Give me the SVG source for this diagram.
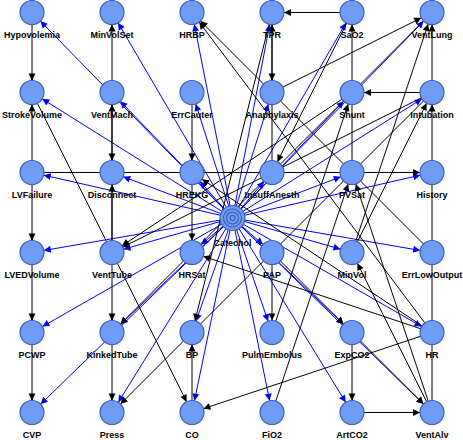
<svg xmlns="http://www.w3.org/2000/svg" width="463" height="440" viewBox="0 0 463 440">
<defs>
<marker id="ab" markerUnits="userSpaceOnUse" markerWidth="8" markerHeight="8" refX="19" refY="3.5" orient="auto" overflow="visible"><path d="M0,0 L7,3.5 L0,7 z" fill="#000"/></marker>
<marker id="ag" markerUnits="userSpaceOnUse" markerWidth="8" markerHeight="8" refX="19" refY="3.5" orient="auto" overflow="visible"><path d="M0,0 L7,3.5 L0,7 z" fill="#0000ff"/></marker>
</defs>
<style>
.k{stroke:#000;stroke-width:1;fill:none;marker-end:url(#ab)}
.b{stroke:#0000ff;stroke-width:1;fill:none;marker-end:url(#ag)}
.n circle{fill:#6f9cf8;stroke:#3f5fb4;stroke-width:1.2}
.n text{font-family:"Liberation Sans",Arial,sans-serif;font-weight:bold;font-size:9px;text-anchor:middle;fill:#000}
</style>
<rect width="463" height="440" fill="#fff"/>
<g id="connectors">
<g id="blue">
<line class="b" x1="232.5" y1="218" x2="32" y2="12.5"/>
<line class="b" x1="232.5" y1="218" x2="112" y2="12.5"/>
<line class="b" x1="232.5" y1="218" x2="192" y2="12.5"/>
<line class="b" x1="232.5" y1="218" x2="272" y2="12.5"/>
<line class="b" x1="232.5" y1="218" x2="352" y2="12.5"/>
<line class="b" x1="232.5" y1="218" x2="432" y2="12.5"/>
<line class="b" x1="232.5" y1="218" x2="32" y2="92.5"/>
<line class="b" x1="232.5" y1="218" x2="112" y2="92.5"/>
<line class="b" x1="232.5" y1="218" x2="192" y2="92.5"/>
<line class="b" x1="232.5" y1="218" x2="272" y2="92.5"/>
<line class="b" x1="232.5" y1="218" x2="352" y2="92.5"/>
<line class="b" x1="232.5" y1="218" x2="432" y2="92.5"/>
<line class="b" x1="232.5" y1="218" x2="32" y2="172.5"/>
<line class="b" x1="232.5" y1="218" x2="112" y2="172.5"/>
<line class="b" x1="232.5" y1="218" x2="192" y2="172.5"/>
<line class="b" x1="232.5" y1="218" x2="272" y2="172.5"/>
<line class="b" x1="232.5" y1="218" x2="352" y2="172.5"/>
<line class="b" x1="232.5" y1="218" x2="432" y2="172.5"/>
<line class="b" x1="232.5" y1="218" x2="32" y2="252.5"/>
<line class="b" x1="232.5" y1="218" x2="112" y2="252.5"/>
<line class="b" x1="232.5" y1="218" x2="192" y2="252.5"/>
<line class="b" x1="232.5" y1="218" x2="272" y2="252.5"/>
<line class="b" x1="232.5" y1="218" x2="352" y2="252.5"/>
<line class="b" x1="232.5" y1="218" x2="432" y2="252.5"/>
<line class="b" x1="232.5" y1="218" x2="32" y2="332.5"/>
<line class="b" x1="232.5" y1="218" x2="112" y2="332.5"/>
<line class="b" x1="232.5" y1="218" x2="192" y2="332.5"/>
<line class="b" x1="232.5" y1="218" x2="272" y2="332.5"/>
<line class="b" x1="232.5" y1="218" x2="352" y2="332.5"/>
<line class="b" x1="232.5" y1="218" x2="432" y2="332.5"/>
<line class="b" x1="232.5" y1="218" x2="32" y2="412.5"/>
<line class="b" x1="232.5" y1="218" x2="112" y2="412.5"/>
<line class="b" x1="232.5" y1="218" x2="192" y2="412.5"/>
<line class="b" x1="232.5" y1="218" x2="272" y2="412.5"/>
<line class="b" x1="232.5" y1="218" x2="352" y2="412.5"/>
<line class="b" x1="232.5" y1="218" x2="432" y2="412.5"/>
</g>
<g id="black">
<line class="k" x1="32" y1="12.5" x2="32" y2="92.5"/>
<line class="k" x1="32" y1="172.5" x2="32" y2="92.5"/>
<line class="k" x1="32" y1="172.5" x2="32" y2="252.5"/>
<line class="k" x1="32" y1="172.5" x2="432" y2="172.5"/>
<line class="k" x1="32" y1="252.5" x2="32" y2="332.5"/>
<line class="k" x1="32" y1="332.5" x2="32" y2="412.5"/>
<line class="k" x1="32" y1="92.5" x2="192" y2="412.5"/>
<line class="k" x1="432" y1="252.5" x2="192" y2="12.5"/>
<line class="k" x1="432" y1="332.5" x2="192" y2="12.5"/>
<line class="k" x1="192" y1="92.5" x2="192" y2="172.5"/>
<line class="k" x1="192" y1="172.5" x2="192" y2="252.5"/>
<line class="k" x1="272" y1="12.5" x2="272" y2="92.5"/>
<line class="k" x1="272" y1="172.5" x2="272" y2="12.5"/>
<line class="k" x1="352" y1="12.5" x2="272" y2="12.5"/>
<line class="k" x1="272" y1="12.5" x2="192" y2="332.5"/>
<line class="k" x1="352" y1="12.5" x2="272" y2="172.5"/>
<line class="k" x1="352" y1="172.5" x2="352" y2="12.5"/>
<line class="k" x1="432" y1="92.5" x2="352" y2="92.5"/>
<line class="k" x1="432" y1="92.5" x2="432" y2="12.5"/>
<line class="k" x1="272" y1="92.5" x2="432" y2="12.5"/>
<line class="k" x1="272" y1="332.5" x2="352" y2="92.5"/>
<line class="k" x1="272" y1="252.5" x2="272" y2="332.5"/>
<line class="k" x1="272" y1="412.5" x2="352" y2="172.5"/>
<line class="k" x1="432" y1="412.5" x2="352" y2="172.5"/>
<line class="k" x1="432" y1="12.5" x2="112" y2="332.5"/>
<line class="k" x1="112" y1="252.5" x2="112" y2="332.5"/>
<line class="k" x1="112" y1="332.5" x2="112" y2="412.5"/>
<line class="k" x1="432" y1="92.5" x2="112" y2="412.5"/>
<line class="k" x1="112" y1="252.5" x2="112" y2="172.5"/>
<line class="k" x1="112" y1="252.5" x2="112" y2="92.5"/>
<line class="k" x1="112" y1="92.5" x2="112" y2="172.5"/>
<line class="k" x1="112" y1="92.5" x2="112" y2="12.5"/>
<line class="k" x1="352" y1="92.5" x2="112" y2="252.5"/>
<line class="k" x1="432" y1="92.5" x2="112" y2="252.5"/>
<line class="k" x1="432" y1="412.5" x2="432" y2="92.5"/>
<line class="k" x1="352" y1="252.5" x2="432" y2="92.5"/>
<line class="k" x1="352" y1="252.5" x2="432" y2="12.5"/>
<line class="k" x1="272" y1="252.5" x2="352" y2="332.5"/>
<line class="k" x1="352" y1="332.5" x2="432" y2="412.5"/>
<line class="k" x1="352" y1="332.5" x2="352" y2="412.5"/>
<line class="k" x1="352" y1="412.5" x2="432" y2="412.5"/>
<line class="k" x1="432" y1="332.5" x2="192" y2="412.5"/>
<line class="k" x1="192" y1="412.5" x2="192" y2="332.5"/>
<line class="k" x1="432" y1="332.5" x2="192" y2="252.5"/>
<line class="k" x1="432" y1="332.5" x2="192" y2="172.5"/>
<line class="k" x1="432" y1="412.5" x2="352" y2="252.5"/>
</g>
</g>
<g id="Hypovolemia" class="n"><circle cx="32" cy="12.5" r="12"/><text x="32" y="38">Hypovolemia</text></g>
<g id="MinVolSet" class="n"><circle cx="112" cy="12.5" r="12"/><text x="112" y="38">MinVolSet</text></g>
<g id="HRBP" class="n"><circle cx="192" cy="12.5" r="12"/><text x="192" y="38">HRBP</text></g>
<g id="TPR" class="n"><circle cx="272" cy="12.5" r="12"/><text x="272" y="38">TPR</text></g>
<g id="SaO2" class="n"><circle cx="352" cy="12.5" r="12"/><text x="352" y="38">SaO2</text></g>
<g id="VentLung" class="n"><circle cx="432" cy="12.5" r="12"/><text x="432" y="38">VentLung</text></g>
<g id="StrokeVolume" class="n"><circle cx="32" cy="92.5" r="12"/><text x="32" y="118">StrokeVolume</text></g>
<g id="VentMach" class="n"><circle cx="112" cy="92.5" r="12"/><text x="112" y="118">VentMach</text></g>
<g id="ErrCauter" class="n"><circle cx="192" cy="92.5" r="12"/><text x="192" y="118">ErrCauter</text></g>
<g id="Anaphylaxis" class="n"><circle cx="272" cy="92.5" r="12"/><text x="272" y="118">Anaphylaxis</text></g>
<g id="Shunt" class="n"><circle cx="352" cy="92.5" r="12"/><text x="352" y="118">Shunt</text></g>
<g id="Intubation" class="n"><circle cx="432" cy="92.5" r="12"/><text x="432" y="118">Intubation</text></g>
<g id="LVFailure" class="n"><circle cx="32" cy="172.5" r="12"/><text x="32" y="198">LVFailure</text></g>
<g id="Disconnect" class="n"><circle cx="112" cy="172.5" r="12"/><text x="112" y="198">Disconnect</text></g>
<g id="HREKG" class="n"><circle cx="192" cy="172.5" r="12"/><text x="192" y="198">HREKG</text></g>
<g id="InsuffAnesth" class="n"><circle cx="272" cy="172.5" r="12"/><text x="272" y="198">InsuffAnesth</text></g>
<g id="PVSat" class="n"><circle cx="352" cy="172.5" r="12"/><text x="352" y="198">PVSat</text></g>
<g id="History" class="n"><circle cx="432" cy="172.5" r="12"/><text x="432" y="198">History</text></g>
<g id="LVEDVolume" class="n"><circle cx="32" cy="252.5" r="12"/><text x="32" y="278">LVEDVolume</text></g>
<g id="VentTube" class="n"><circle cx="112" cy="252.5" r="12"/><text x="112" y="278">VentTube</text></g>
<g id="HRSat" class="n"><circle cx="192" cy="252.5" r="12"/><text x="192" y="278">HRSat</text></g>
<g id="PAP" class="n"><circle cx="272" cy="252.5" r="12"/><text x="272" y="278">PAP</text></g>
<g id="MinVol" class="n"><circle cx="352" cy="252.5" r="12"/><text x="352" y="278">MinVol</text></g>
<g id="ErrLowOutput" class="n"><circle cx="432" cy="252.5" r="12"/><text x="432" y="278">ErrLowOutput</text></g>
<g id="PCWP" class="n"><circle cx="32" cy="332.5" r="12"/><text x="32" y="358">PCWP</text></g>
<g id="KinkedTube" class="n"><circle cx="112" cy="332.5" r="12"/><text x="112" y="358">KinkedTube</text></g>
<g id="BP" class="n"><circle cx="192" cy="332.5" r="12"/><text x="192" y="358">BP</text></g>
<g id="PulmEmbolus" class="n"><circle cx="272" cy="332.5" r="12"/><text x="272" y="358">PulmEmbolus</text></g>
<g id="ExpCO2" class="n"><circle cx="352" cy="332.5" r="12"/><text x="352" y="358">ExpCO2</text></g>
<g id="HR" class="n"><circle cx="432" cy="332.5" r="12"/><text x="432" y="358">HR</text></g>
<g id="CVP" class="n"><circle cx="32" cy="412.5" r="12"/><text x="32" y="438">CVP</text></g>
<g id="Press" class="n"><circle cx="112" cy="412.5" r="12"/><text x="112" y="438">Press</text></g>
<g id="CO" class="n"><circle cx="192" cy="412.5" r="12"/><text x="192" y="438">CO</text></g>
<g id="FiO2" class="n"><circle cx="272" cy="412.5" r="12"/><text x="272" y="438">FiO2</text></g>
<g id="ArtCO2" class="n"><circle cx="352" cy="412.5" r="12"/><text x="352" y="438">ArtCO2</text></g>
<g id="VentAlv" class="n"><circle cx="432" cy="412.5" r="12"/><text x="432" y="438">VentAlv</text></g>
<g id="Catechol" class="n"><circle cx="232.5" cy="218" r="12.5"/><circle cx="232.5" cy="218" r="9" fill="none"/><circle cx="232.5" cy="218" r="6" fill="none"/><circle cx="232.5" cy="218" r="2.5"/><text x="232.5" y="246">Catechol</text></g>
</svg>
